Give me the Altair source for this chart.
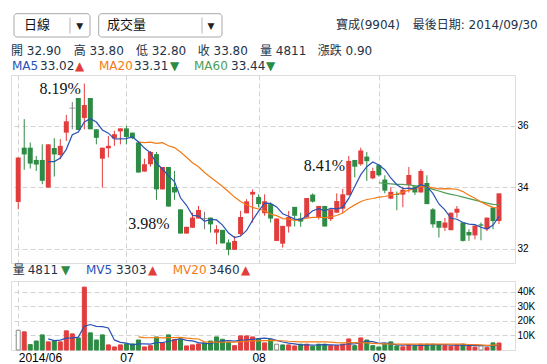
import altair as alt
import pandas as pd

# ---------------- data ----------------
opens = [33.52, 35.29, 35.29, 34.89, 34.89, 33.99, 35.28, 35.05, 35.78, 36.58,
         36.91, 36.26, 36.91, 35.89, 34.93, 35.27, 35.59, 35.82, 35.92, 35.78,
         35.46, 34.51, 34.75, 35.08, 33.93, 34.66, 34.01, 33.28, 32.49, 32.68,
         32.98, 32.98, 33.01, 32.52, 32.61, 32.20, 31.96, 32.47, 33.15, 33.76,
         33.68, 33.15, 33.45, 32.25, 32.16, 32.72, 33.36, 32.99, 33.01, 33.76,
         33.01, 33.39, 32.96, 33.17, 33.30, 33.74, 34.89, 34.75, 35.00, 34.29,
         34.72, 34.25, 33.63, 33.78, 33.76, 34.07, 34.03, 33.83, 34.14, 33.28,
         32.90, 32.68, 32.60, 33.17, 32.85, 32.54, 32.43, 32.79, 32.63, 33.34,
         32.90]
highs = [34.97, 36.22, 35.46, 35.02, 35.40, 35.40, 35.60, 35.57, 36.36, 36.78,
         36.91, 37.38, 36.91, 35.89, 35.29, 35.67, 35.84, 35.92, 36.00, 35.78,
         35.51, 34.93, 35.18, 35.15, 34.66, 34.66, 34.53, 33.28, 32.71, 33.17,
         33.39, 33.20, 33.01, 32.76, 32.61, 32.30, 32.41, 33.23, 33.61, 33.93,
         33.77, 33.77, 33.50, 32.98, 32.74, 33.23, 33.36, 33.17, 33.65, 33.80,
         33.39, 33.39, 33.28, 33.80, 33.95, 35.02, 34.89, 35.29, 35.15, 34.64,
         34.75, 34.39, 34.00, 33.86, 34.02, 34.66, 34.03, 34.59, 34.39, 33.32,
         32.90, 33.00, 33.17, 33.39, 32.85, 32.63, 32.75, 32.85, 33.01, 33.34,
         33.80]
lows = [33.28, 34.57, 34.61, 34.53, 34.10, 33.99, 34.35, 34.91, 35.51, 35.89,
        35.87, 35.89, 35.89, 35.40, 33.99, 34.97, 35.35, 35.40, 35.40, 35.57,
        34.48, 34.51, 34.67, 33.59, 33.93, 33.37, 33.59, 32.49, 32.49, 32.68,
        32.98, 32.63, 32.52, 32.14, 32.17, 31.78, 31.96, 32.41, 33.15, 32.85,
        33.34, 33.07, 32.85, 32.25, 32.03, 32.52, 32.72, 32.71, 33.01, 33.50,
        32.95, 32.72, 32.90, 33.17, 33.15, 33.74, 34.32, 34.70, 34.21, 34.26,
        34.35, 33.80, 33.61, 33.25, 33.35, 33.83, 33.75, 33.83, 33.45, 32.68,
        32.36, 32.57, 32.60, 33.01, 32.23, 32.25, 32.30, 32.27, 32.57, 32.63,
        32.80]
closes = [34.97, 35.07, 34.77, 34.74, 34.21, 35.40, 35.07, 35.35, 36.15, 36.58,
          35.87, 36.68, 35.89, 35.61, 35.29, 35.35, 35.73, 35.92, 35.64, 35.60,
          34.48, 34.75, 35.15, 33.93, 34.66, 33.37, 33.83, 32.49, 32.71, 33.01,
          33.26, 32.98, 32.79, 32.63, 32.17, 31.96, 32.25, 33.03, 33.54, 33.85,
          33.45, 33.54, 32.98, 32.98, 32.74, 33.03, 33.07, 32.88, 33.65, 33.53,
          33.39, 32.72, 33.28, 33.55, 33.77, 34.86, 34.67, 35.20, 34.85, 34.53,
          34.39, 33.89, 33.85, 33.75, 33.92, 34.40, 33.83, 34.53, 33.45, 32.79,
          32.68, 32.85, 33.17, 33.30, 32.25, 32.43, 32.75, 32.75, 33.01, 32.90,
          33.80]
volumes = [13600, 12500, 3700, 6200, 10400, 5600, 6200, 5600, 13200, 11100,
           8300, 43300, 11800, 6900, 10400, 3500, 2100, 3500, 4200, 4200,
           6900, 2100, 3000, 9000, 4900, 10400, 7200, 7600, 2800, 3500,
           4200, 4900, 6200, 9000, 7400, 5100, 3000, 9700, 9700, 9000,
           7600, 4900, 7500, 4000, 3500, 3500, 2800, 4000, 4000, 2600,
           4000, 4000, 3000, 3000, 4000, 7600, 3000, 8300, 6900, 3000,
           2100, 4000, 5600, 2800, 2200, 3500, 3000, 4000, 4000, 4000,
           3500, 3000, 2600, 3500, 4000, 3000, 2000, 3000, 1800, 4900,
           4811]

month_ticks = [0, 18, 40, 60]
month_labels = ["2014/06", "07", "08", "09"]
price_ticks = [32, 34, 36]
volume_ticks = [10000, 20000, 30000, 40000]

ann_labels = ["8.19%", "3.98%", "8.41%"]
ann_index = [10.4, 25.2, 54.4]
ann_price = [37.05, 32.63, 34.53]

ma_names = ["MA5", "MA20", "MA60"]
ma_values = [33.02, 33.31, 33.44]
ma_arrows = ["▲", "▼", "▼"]
mv_names = ["MV5", "MV20"]
mv_values = [3303, 3460]
mv_arrows = ["▲", "▲"]
stock_name = "寶成(9904)"
last_date = "2014/09/30"
menu_labels = ["日線", "成交量"]

# ---------------- styling ----------------
RED = "#e23d3d"
GREEN = "#2e8b45"
GRAY = "#777777"
BLUE = "#2a52b5"
ORANGE = "#f47a15"
MA60C = "#4f9d58"
TXT = "#1d3347"
FRAME = "#1b3452"
GRID = "#d3d3d3"
FONT = "DejaVu Sans, Noto Sans CJK TC"

W, H_HDR, H_MAIN, H_VOL = 504, 48, 188, 69

df = pd.DataFrame({"idx": list(range(len(opens))), "open": opens, "high": highs,
                   "low": lows, "close": closes, "volume": volumes})

# ---------------- header ----------------
boxes = pd.DataFrame({"x": [3, 87.7], "x2": [79, 211], "y": [4.7, 4.7], "y2": [28, 28]})
box_layer = alt.Chart(boxes).mark_rect(fill="white", stroke="#a8a8a8", strokeWidth=1,
                                       cornerRadius=3).encode(
    x=alt.X("x:Q", scale=None), x2="x2:Q", y=alt.Y("y:Q", scale=None), y2="y2:Q")
divs = pd.DataFrame({"x": [59, 191], "y": [8.5, 8.5], "y2": [24.5, 24.5]})
div_layer = alt.Chart(divs).mark_rule(color="#b5b5b5").encode(
    x=alt.X("x:Q", scale=None), y=alt.Y("y:Q", scale=None), y2="y2:Q")
arrows = pd.DataFrame({"t": ["▼", "▼"], "x": [68.7, 200], "y": [16.5, 16.5]})
arrow_layer = alt.Chart(arrows).mark_text(fontSize=9, color="#222", font=FONT).encode(
    x=alt.X("x:Q", scale=None), y=alt.Y("y:Q", scale=None), text="t:N")
menu = pd.DataFrame({"t": menu_labels, "x": [13, 96], "y": [16.3, 16.3]})
menu_layer = alt.Chart(menu).mark_text(fontSize=13, color="#111", align="left",
                                       baseline="middle", font=FONT).encode(
    x=alt.X("x:Q", scale=None), y=alt.Y("y:Q", scale=None), text="t:N")

title_df = pd.DataFrame({"t": [stock_name, "最後日期: " + last_date],
                         "x": [325, 401.7], "y": [16.3, 16.3]})
title_layer = alt.Chart(title_df).mark_text(fontSize=12, align="left", baseline="middle",
                                            font=FONT, color=TXT).encode(
    x=alt.X("x:Q", scale=None), y=alt.Y("y:Q", scale=None), text="t:N")

o, h, l, c = opens[-1], highs[-1], lows[-1], closes[-1]
chg = closes[-1] - closes[-2]
row_txt = [f"開 {o:.2f}", f"高 {h:.2f}", f"低 {l:.2f}", f"收 {c:.2f}",
           f"量 {volumes[-1]}", f"漲跌 {chg:.2f}",
           f"{ma_values[0]:.2f}", f"{ma_values[1]:.2f}", f"{ma_values[2]:.2f}"]
row_x = [0, 62.7, 125, 186.7, 249, 306.7, 29, 123, 220]
row_y = [42, 42, 42, 42, 42, 42, 57, 57, 57]
row_c = [TXT] * len(row_txt)
row_txt += ma_names + ma_arrows
row_x += [1, 88, 183, 64, 159, 255]
row_y += [57] * 6
row_c += [BLUE, ORANGE, MA60C, RED, GREEN, GREEN]
rows = pd.DataFrame({"t": row_txt, "x": row_x, "y": row_y, "c": row_c})
row_layer = alt.Chart(rows).mark_text(fontSize=12, align="left", baseline="middle",
                                      font=FONT).encode(
    x=alt.X("x:Q", scale=None), y=alt.Y("y:Q", scale=None), text="t:N",
    color=alt.Color("c:N", scale=None))

header = alt.layer(box_layer, div_layer, arrow_layer, menu_layer, title_layer,
                   row_layer).properties(
    width=W, height=H_HDR, view=alt.ViewBackground(stroke="transparent"))

# ---------------- main candlestick panel ----------------
xscale = alt.Scale(domain=[-0.37, 81.83], nice=False, zero=False)
x_main = alt.X("idx:Q", scale=xscale,
               axis=alt.Axis(values=month_ticks, labels=False, ticks=False, domain=False,
                             grid=True, gridDash=[5, 3], gridColor=GRID, title=None))
pscale = alt.Scale(domain=[31.53, 37.66], nice=False, zero=False)
paxis = alt.Axis(orient="right", values=price_ticks, ticks=False, domain=False, grid=True,
                 gridDash=[5, 3], gridColor=GRID, labelPadding=2, title=None)
dir_color = alt.Color("dir:N", scale=alt.Scale(domain=["up", "down", "flat"],
                                               range=[RED, GREEN, GRAY]), legend=None)

base = alt.Chart(df).transform_calculate(
    dir="datum.close > datum.open ? 'up' : (datum.close < datum.open ? 'down' : 'flat')")
wicks = base.mark_rule(strokeWidth=1).encode(
    x=x_main, y=alt.Y("low:Q", scale=pscale, axis=paxis), y2="high:Q", color=dir_color)
bodies = base.mark_bar(size=5).encode(
    x=x_main, y=alt.Y("open:Q", scale=pscale, axis=paxis), y2="close:Q", color=dir_color)
doji = base.transform_filter("datum.dir == 'flat'").mark_tick(
    orient="horizontal", size=6, thickness=1).encode(
    x=x_main, y=alt.Y("close:Q", scale=pscale, axis=paxis), color=dir_color)


def ma_layer(field, n, color, yscale, yaxis, width=1.2):
    return alt.Chart(df).transform_window(
        ma=f"mean({field})", frame=[-(n - 1), 0], sort=[alt.SortField("idx")]
    ).transform_filter(f"datum.idx >= {n}").mark_line(color=color, strokeWidth=width).encode(
        x=x_main, y=alt.Y("ma:Q", scale=yscale, axis=yaxis))


ann_df = pd.DataFrame({"label": ann_labels, "idx": ann_index, "price": ann_price})
ann = alt.Chart(ann_df).mark_text(align="right", baseline="alphabetic",
                                  font="Liberation Serif", fontSize=16, color="#111").encode(
    x=x_main, y=alt.Y("price:Q", scale=pscale, axis=paxis), text="label:N")

main = alt.layer(
    wicks, bodies, doji,
    ma_layer("close", 60, MA60C, pscale, paxis),
    ma_layer("close", 20, ORANGE, pscale, paxis),
    ma_layer("close", 5, BLUE, pscale, paxis),
    ann,
).properties(width=W, height=H_MAIN)

# ---------------- volume panel ----------------
label_expr = " : ".join(f"datum.value == {v} ? '{t}'" for v, t in zip(month_ticks, month_labels)) + " : ''"
x_vol = alt.X("idx:Q", scale=xscale,
              axis=alt.Axis(values=month_ticks, labelExpr=label_expr, ticks=False, domain=False,
                            grid=True, gridDash=[5, 3], gridColor=GRID, title=None,
                            labelPadding=2, labelFontSize=12,
                            labelAlign={"condition": {"test": f"datum.value == {month_ticks[0]}",
                                                      "value": "left"}, "value": "center"}))
vscale = alt.Scale(domain=[0, 47500], nice=False)
vaxis = alt.Axis(orient="right", values=volume_ticks, labelExpr="datum.value / 1000 + 'K'",
                 ticks=False, domain=False, grid=True, gridDash=[5, 3], gridColor=GRID,
                 labelPadding=2, title=None)

vbase = alt.Chart(df).transform_window(
    prev="lag(close)", sort=[alt.SortField("idx")]
).transform_calculate(
    vdir="datum.prev == null ? 'flat' : (datum.close > datum.prev ? 'up' : "
         "(datum.close < datum.prev ? 'down' : 'flat'))")
vbars = vbase.mark_bar(size=4, strokeWidth=1).encode(
    x=x_vol, y=alt.Y("volume:Q", scale=vscale, axis=vaxis),
    fill=alt.Fill("vdir:N", scale=alt.Scale(domain=["up", "down", "flat"],
                                            range=[RED, GREEN, "white"]), legend=None),
    stroke=alt.Stroke("vdir:N", scale=alt.Scale(domain=["up", "down", "flat"],
                                                range=[RED, GREEN, "#8a8a8a"]), legend=None))


def mv_layer(n, color):
    return alt.Chart(df).transform_window(
        mv="mean(volume)", frame=[-(n - 1), 0], sort=[alt.SortField("idx")]
    ).transform_filter(f"datum.idx >= {n}").mark_line(color=color, strokeWidth=1.2).encode(
        x=x_vol, y=alt.Y("mv:Q", scale=vscale, axis=vaxis))


vrow = pd.DataFrame({
    "t": ["量", str(volumes[-1]), "▼", mv_names[0], str(mv_values[0]), mv_arrows[0],
          mv_names[1], str(mv_values[1]), mv_arrows[1]],
    "x": [1.7, 16.7, 50, 75, 105, 137, 161.7, 198, 230],
    "y": [-11] * 9,
    "c": [TXT, TXT, GREEN, BLUE, TXT, RED, ORANGE, TXT, RED]})
vrow_layer = alt.Chart(vrow).mark_text(fontSize=12, align="left", baseline="middle",
                                       font=FONT).encode(
    x=alt.X("x:Q", scale=None), y=alt.Y("y:Q", scale=None), text="t:N",
    color=alt.Color("c:N", scale=None))

vol = alt.layer(vbars, mv_layer(5, BLUE), mv_layer(20, ORANGE), vrow_layer).properties(
    width=W, height=H_VOL)

chart = alt.vconcat(header, main, vol, spacing=18, bounds="flush").properties(
    padding={"left": 2, "top": 0, "right": 0, "bottom": 0}
).configure_view(stroke=FRAME, strokeWidth=1.5).configure_axis(
    labelFont="DejaVu Sans", labelFontSize=11.5, labelColor=TXT
).configure(background="white")

chart.save("out.html", embed_options={"renderer": "svg", "actions": False})
